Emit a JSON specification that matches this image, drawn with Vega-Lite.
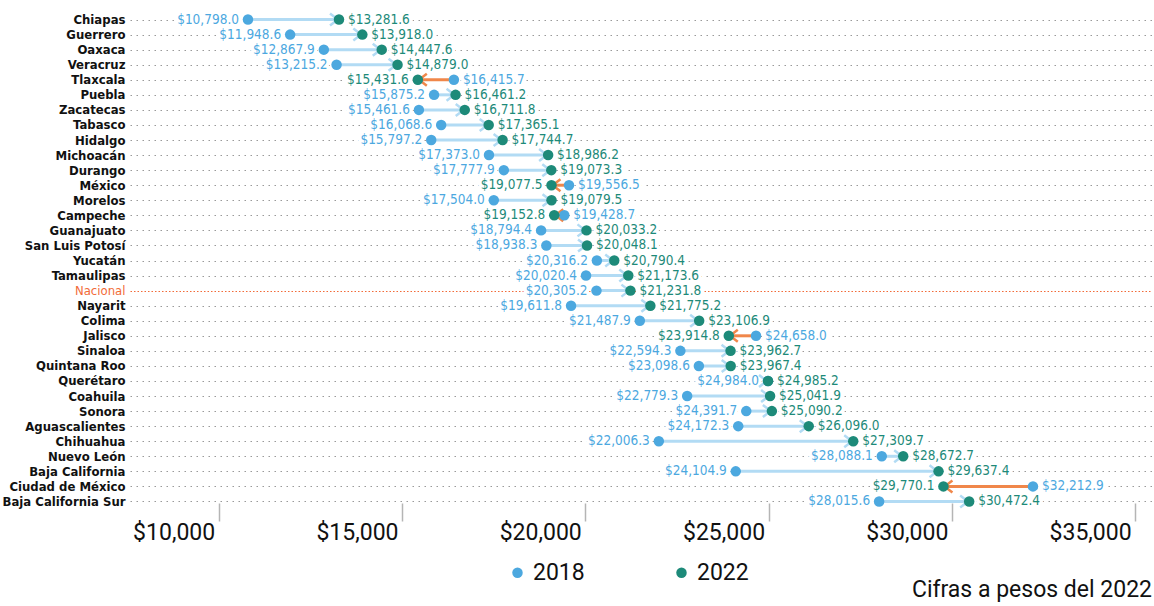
{
  "$schema": "https://vega.github.io/schema/vega-lite/v6.json",
  "width": 1022,
  "height": 497,
  "autosize": "none",
  "padding": {"left": 130, "top": 12, "right": 2, "bottom": 97},
  "background": "white",
  "title": {"text": "Cifras a pesos del 2022", "orient": "bottom", "anchor": "end", "font": "Roboto", "fontSize": 23, "fontWeight": "normal", "color": "#111", "offset": -6},
  "data": {"values": [
    {"estado": "Chiapas", "2018": 10798.0, "2022": 13281.6},
    {"estado": "Guerrero", "2018": 11948.6, "2022": 13918.0},
    {"estado": "Oaxaca", "2018": 12867.9, "2022": 14447.6},
    {"estado": "Veracruz", "2018": 13215.2, "2022": 14879.0},
    {"estado": "Tlaxcala", "2018": 16415.7, "2022": 15431.6},
    {"estado": "Puebla", "2018": 15875.2, "2022": 16461.2},
    {"estado": "Zacatecas", "2018": 15461.6, "2022": 16711.8},
    {"estado": "Tabasco", "2018": 16068.6, "2022": 17365.1},
    {"estado": "Hidalgo", "2018": 15797.2, "2022": 17744.7},
    {"estado": "Michoacán", "2018": 17373.0, "2022": 18986.2},
    {"estado": "Durango", "2018": 17777.9, "2022": 19073.3},
    {"estado": "México", "2018": 19556.5, "2022": 19077.5},
    {"estado": "Morelos", "2018": 17504.0, "2022": 19079.5},
    {"estado": "Campeche", "2018": 19428.7, "2022": 19152.8},
    {"estado": "Guanajuato", "2018": 18794.4, "2022": 20033.2},
    {"estado": "San Luis Potosí", "2018": 18938.3, "2022": 20048.1},
    {"estado": "Yucatán", "2018": 20316.2, "2022": 20790.4},
    {"estado": "Tamaulipas", "2018": 20020.4, "2022": 21173.6},
    {"estado": "Nacional", "2018": 20305.2, "2022": 21231.8},
    {"estado": "Nayarit", "2018": 19611.8, "2022": 21775.2},
    {"estado": "Colima", "2018": 21487.9, "2022": 23106.9},
    {"estado": "Jalisco", "2018": 24658.0, "2022": 23914.8},
    {"estado": "Sinaloa", "2018": 22594.3, "2022": 23962.7},
    {"estado": "Quintana Roo", "2018": 23098.6, "2022": 23967.4},
    {"estado": "Querétaro", "2018": 24984.0, "2022": 24985.2},
    {"estado": "Coahuila", "2018": 22779.3, "2022": 25041.9},
    {"estado": "Sonora", "2018": 24391.7, "2022": 25090.2},
    {"estado": "Aguascalientes", "2018": 24172.3, "2022": 26096.0},
    {"estado": "Chihuahua", "2018": 22006.3, "2022": 27309.7},
    {"estado": "Nuevo León", "2018": 28088.1, "2022": 28672.7},
    {"estado": "Baja California", "2018": 24104.9, "2022": 29637.4},
    {"estado": "Ciudad de México", "2018": 32212.9, "2022": 29770.1},
    {"estado": "Baja California Sur", "2018": 28015.6, "2022": 30472.4}
  ]},
  "encoding": {
    "y": {
      "field": "estado", "type": "nominal", "sort": null,
      "scale": {"type": "point", "padding": 0.5},
      "axis": {
        "title": null, "domain": false, "ticks": false, "labelPadding": 5,
        "labelFont": "DejaVu Sans Condensed", "labelFontSize": 13,
        "labelFontWeight": {"condition": {"test": "datum.value === 'Nacional'", "value": "normal"}, "value": "bold"},
        "labelColor": {"condition": {"test": "datum.value === 'Nacional'", "value": "#f26b38"}, "value": "#111"},
        "grid": true, "gridWidth": 1.2,
        "gridColor": {"condition": {"test": "datum.value === 'Nacional'", "value": "#f26b38"}, "value": "#9a9a9a"},
        "gridDash": {"condition": {"test": "datum.value === 'Nacional'", "value": [1.5, 2]}, "value": [1.5, 4.5]}
      }
    }
  },
  "layer": [
    {
      "transform": [
        {"fold": ["2018", "2022"], "as": ["year", "value"]},
        {"filter": "(datum.year === '2018') === (datum['2018'] <= datum['2022'])"}
      ],
      "mark": {"type": "text", "align": "right", "baseline": "middle", "dx": -9, "font": "DejaVu Sans Condensed", "fontSize": 13.5, "fill": "white", "stroke": "white", "strokeWidth": 7, "strokeJoin": "round"},
      "encoding": {
        "x": {"field": "value", "type": "quantitative"},
        "text": {"field": "value", "type": "quantitative", "format": "$,.1f"}
      }
    },
    {
      "transform": [
        {"fold": ["2018", "2022"], "as": ["year", "value"]},
        {"filter": "(datum.year === '2018') !== (datum['2018'] <= datum['2022'])"}
      ],
      "mark": {"type": "text", "align": "left", "baseline": "middle", "dx": 9, "font": "DejaVu Sans Condensed", "fontSize": 13.5, "fill": "white", "stroke": "white", "strokeWidth": 7, "strokeJoin": "round"},
      "encoding": {
        "x": {"field": "value", "type": "quantitative"},
        "text": {"field": "value", "type": "quantitative", "format": "$,.1f"}
      }
    },
    {
      "mark": {"type": "rule", "strokeWidth": 3, "strokeCap": "butt"},
      "encoding": {
        "x": {
          "field": "2018", "type": "quantitative",
          "scale": {"domain": [7580, 35460], "nice": false, "zero": false},
          "axis": {
            "title": null, "domain": false, "grid": false,
            "values": [10000, 15000, 20000, 25000, 30000, 35000],
            "format": "$,.0f", "offset": -6,
            "tickSize": 18, "tickColor": "#b5b5b5", "tickWidth": 1.5,
            "labelAlign": "right", "labelOffset": -4, "labelPadding": 0,
            "labelFont": "Roboto", "labelFontSize": 23, "labelColor": "#111",
            "labelBaseline": "top"
          }
        },
        "x2": {"field": "2022"},
        "color": {"condition": {"test": "datum['2022'] < datum['2018']", "value": "#f0874a"}, "value": "#b2dbf4"}
      }
    },
    {
      "mark": {"type": "point", "filled": false, "size": 144, "strokeWidth": 2.5, "opacity": 1},
      "encoding": {
        "x": {"field": "2022", "type": "quantitative"},
        "shape": {"condition": {"test": "datum['2022'] < datum['2018']", "value": "M1.5,-1L0.2,0L1.5,1"}, "value": "M-1.5,-1L-0.2,0L-1.5,1"},
        "color": {"condition": {"test": "datum['2022'] < datum['2018']", "value": "#f0874a"}, "value": "#b2dbf4"}
      }
    },
    {
      "transform": [{"fold": ["2018", "2022"], "as": ["year", "value"]}],
      "mark": {"type": "circle", "size": 110, "opacity": 1},
      "encoding": {
        "x": {"field": "value", "type": "quantitative"},
        "color": {
          "field": "year", "type": "nominal",
          "scale": {"domain": ["2018", "2022"], "range": ["#4ca8df", "#1d8a79"]},
          "legend": {
            "title": null, "orient": "none", "legendX": 376, "legendY": 549,
            "direction": "horizontal", "symbolType": "circle", "symbolSize": 110,
            "labelFont": "Roboto", "labelFontSize": 23, "labelColor": "#111",
            "columnPadding": 85, "labelOffset": 4, "padding": 0
          }
        }
      }
    },
    {
      "transform": [
        {"fold": ["2018", "2022"], "as": ["year", "value"]},
        {"filter": "(datum.year === '2018') === (datum['2018'] <= datum['2022'])"}
      ],
      "mark": {"type": "text", "align": "right", "baseline": "middle", "dx": -9, "font": "DejaVu Sans Condensed", "fontSize": 13.5},
      "encoding": {
        "x": {"field": "value", "type": "quantitative"},
        "text": {"field": "value", "type": "quantitative", "format": "$,.1f"},
        "color": {"condition": {"test": "datum.year === '2018'", "value": "#4ca8df"}, "value": "#1d8a79"}
      }
    },
    {
      "transform": [
        {"fold": ["2018", "2022"], "as": ["year", "value"]},
        {"filter": "(datum.year === '2018') !== (datum['2018'] <= datum['2022'])"}
      ],
      "mark": {"type": "text", "align": "left", "baseline": "middle", "dx": 9, "font": "DejaVu Sans Condensed", "fontSize": 13.5},
      "encoding": {
        "x": {"field": "value", "type": "quantitative"},
        "text": {"field": "value", "type": "quantitative", "format": "$,.1f"},
        "color": {"condition": {"test": "datum.year === '2018'", "value": "#4ca8df"}, "value": "#1d8a79"}
      }
    }
  ],
  "config": {"view": {"stroke": null}}
}
